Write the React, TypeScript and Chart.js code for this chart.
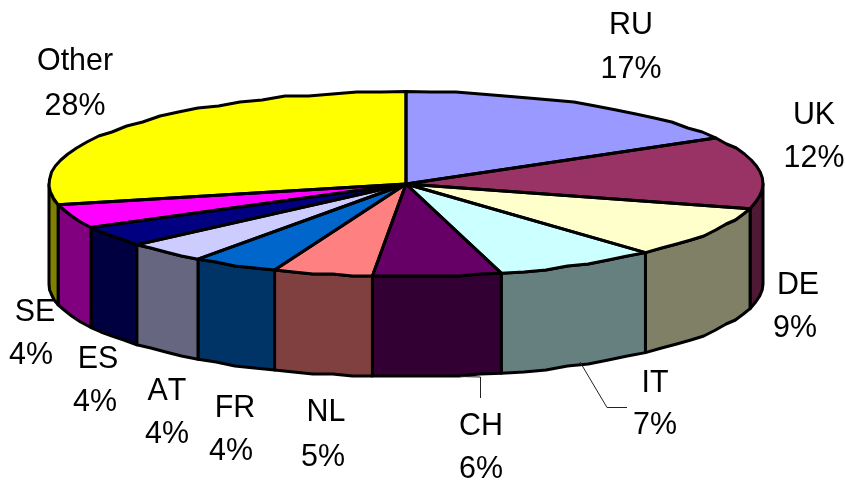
import React, { useEffect, useRef } from "react";
import { Chart, registerables } from "chart.js";

Chart.register(...registerables);

const categories = ["RU", "UK", "DE", "IT", "CH", "NL", "FR", "AT", "ES", "SE", "Other"];
const values = [16.7, 12.6, 9.0, 7.4, 5.8, 4.5, 3.9, 3.7, 3.6, 4.2, 28.6];
const percentLabels = ["17%", "12%", "9%", "7%", "6%", "5%", "4%", "4%", "4%", "4%", "28%"];
const topColors = ["#9999FF", "#993366", "#FFFFCC", "#CCFFFF", "#660066", "#FF8080", "#0066CC", "#CCCCFF", "#000080", "#FF00FF", "#FFFF00"];
const wallColors = ["#4D4D80", "#4D1933", "#808066", "#668080", "#330033", "#804040", "#003366", "#666680", "#000040", "#800080", "#808000"];

// Layout of the tilted pie and of its labels (pixels on the canvas)
const CX = 406;
const CY = 184;
const RX = 357;
const RY = 92.5;
const DEPTH = 100;
const STROKE = 3;
const labelPos: [number, number, number, number][] = [
  [631, 25, 631, 69],
  [814, 115, 814, 158],
  [798, 285, 795, 328],
  [655, 383, 655, 425],
  [481, 426, 481, 469],
  [326, 412, 323, 457],
  [235, 408, 231, 451],
  [167, 391, 167, 434],
  [98, 359, 95, 402],
  [35, 312, 31, 355],
  [75, 61, 75, 106],
];

// the original outline is a coarse polygon, which gives its rim small facets
function rimTo(ctx: any, cy: number, a: number, b: number, first: boolean) {
  const n = Math.max(2, Math.ceil(Math.abs(b - a) / 0.07));
  for (let k = 0; k <= n; k++) {
    const t = a + ((b - a) * k) / n;
    const px = CX + RX * Math.cos(t);
    const py = cy + RY * Math.sin(t);
    const ends = k === 0 || k === n;
    const y = ends ? py : Math.round(py / 2) * 2;
    if (k === 0 && first) ctx.moveTo(px, y);
    else ctx.lineTo(px, y);
  }
}

const pie3d = {
  id: "pie3d",
  beforeDatasetsDraw(chart: any) {
    const ctx = chart.ctx;
    const arcs = chart.getDatasetMeta(0).data;
    ctx.save();
    ctx.lineWidth = STROKE;
    ctx.lineJoin = "round";
    ctx.strokeStyle = "#000";
    arcs.forEach((arc: any, i: number) => {
      const { startAngle, endAngle } = arc.getProps(["startAngle", "endAngle"], true);
      const a = Math.max(startAngle, 0);
      const b = Math.min(endAngle, Math.PI);
      if (b <= a) return;
      ctx.beginPath();
      rimTo(ctx, CY, a, b, true);
      rimTo(ctx, CY + DEPTH, b, a, false);
      ctx.closePath();
      ctx.fillStyle = wallColors[i];
      ctx.fill();
      ctx.stroke();
    });
    ctx.restore();
    const first = arcs[0].getProps(["x", "y", "outerRadius"], true);
    ctx.save();
    ctx.translate(CX, CY);
    ctx.scale(RX / first.outerRadius, RY / first.outerRadius);
    ctx.translate(-first.x, -first.y);
  },
  afterDatasetsDraw(chart: any) {
    const ctx = chart.ctx;
    ctx.restore();
    const arcs = chart.getDatasetMeta(0).data;
    ctx.save();
    ctx.lineWidth = STROKE;
    ctx.lineJoin = "round";
    ctx.strokeStyle = "#000";
    arcs.forEach((arc: any) => {
      const { startAngle, endAngle } = arc.getProps(["startAngle", "endAngle"], true);
      ctx.beginPath();
      ctx.moveTo(CX, CY);
      rimTo(ctx, CY, startAngle, endAngle, false);
      ctx.closePath();
      ctx.stroke();
    });

    // leader lines
    ctx.lineWidth = 1;
    ctx.strokeStyle = "#222";
    ctx.beginPath();
    ctx.moveTo(460, 376.5);
    ctx.lineTo(480.5, 377);
    ctx.lineTo(480.5, 398);
    ctx.moveTo(580, 362);
    ctx.lineTo(607, 407.5);
    ctx.lineTo(627, 407.5);
    ctx.stroke();

    // labels: tall, slightly condensed Arial-like lettering, without kerning
    ctx.fillStyle = "#000";
    ctx.font = '32px "Liberation Sans", Arial, sans-serif';
    ctx.fontKerning = "none";
    ctx.textAlign = "center";
    ctx.textBaseline = "middle";
    const put = (text: string, x: number, y: number) => {
      ctx.save();
      ctx.translate(x, y);
      ctx.scale(0.95, 1);
      ctx.fillText(text, 0, 0);
      ctx.restore();
    };
    categories.forEach((name, i) => {
      const [x1, y1, x2, y2] = labelPos[i];
      put(name, x1, y1);
      put(percentLabels[i], x2, y2);
    });
    ctx.restore();
  },
};

export default function App() {
  const ref = useRef<HTMLCanvasElement | null>(null);
  useEffect(() => {
    if (!ref.current) return;
    const chart = new Chart(ref.current, {
      type: "pie",
      data: {
        labels: categories,
        datasets: [{ data: values, backgroundColor: topColors, borderWidth: 0 }],
      },
      options: {
        animation: false,
        responsive: false,
        layout: { padding: 0 },
        plugins: { legend: { display: false }, tooltip: { enabled: false } },
      },
      plugins: [pie3d],
    } as any);
    return () => chart.destroy();
  }, []);
  return (
    <canvas
      ref={ref}
      width={845}
      height={485}
      style={{ position: "absolute", left: 0, top: 0, width: 845, height: 485, display: "block", background: "#fff" }}
    />
  );
}
